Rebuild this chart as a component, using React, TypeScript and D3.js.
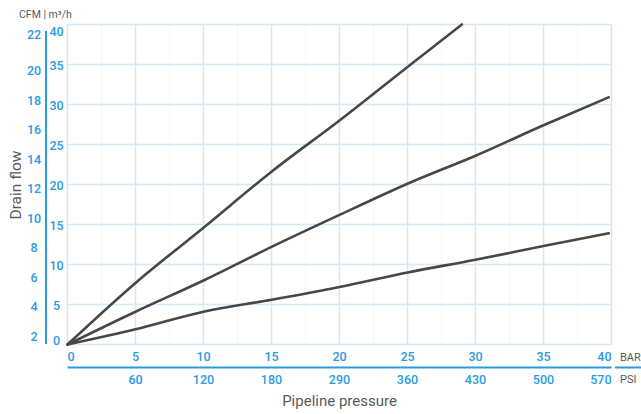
import React from "react";
import * as d3 from "d3";

const barTicks = [0, 5, 10, 15, 20, 25, 30, 35, 40];
const psiLabels = ["", "60", "120", "180", "290", "360", "430", "500", "570"];
const m3hTicks = [0, 5, 10, 15, 20, 25, 30, 35, 40];
const cfmLabels = [2, 4, 6, 8, 10, 12, 14, 16, 18, 20, 22];

const pressure1 = [0, 5, 10, 15, 20, 25, 29];
const flow1 = [0, 7.7, 14.6, 21.6, 28.0, 34.7, 40];
const pressure2 = [0, 5, 10, 15, 20, 25, 30, 35, 39.8];
const flow2 = [0, 4.1, 8.0, 12.2, 16.2, 20.1, 23.6, 27.4, 30.9];
const pressure3 = [0, 5, 10, 15, 20, 25, 30, 35, 39.8];
const flow3 = [0, 1.9, 4.1, 5.6, 7.2, 9.0, 10.6, 12.3, 13.9];

const W = 641;
const H = 414;
const BLUE = "#2b9be0";
const GRID = "#d6e7f6";
const GRAY = "#5a5a5a";
const LINE = "#474747";

export default function App() {
  const x = d3.scaleLinear().domain([0, 40]).range([67.5, 611.5]);
  const y = d3.scaleLinear().domain([0, 40]).range([344.5, 24.5]);
  const cfmY = d3.scaleLinear().domain([2, 20, 22]).range([336.5, 71, 35]);
  const labelY = d3.scaleLinear().domain([0, 5, 35, 40]).range([340.5, 305.5, 66, 31.5]);
  const line = d3
    .line<[number, number]>()
    .x((d) => x(d[0]))
    .y((d) => y(d[1]))
    .curve(d3.curveMonotoneX);
  const series = [
    d3.zip(pressure1, flow1) as [number, number][],
    d3.zip(pressure2, flow2) as [number, number][],
    d3.zip(pressure3, flow3) as [number, number][],
  ];
  const minor = d3.range(2.5, 40, 5);
  const font = "Roboto, 'Noto Sans', sans-serif";

  return (
    <svg
      width={W}
      height={H}
      style={{ position: "absolute", left: 0, top: 0, background: "#fff" }}
      fontFamily={font}
    >
      {minor.map((v) => (
        <line key={"mn" + v} x1={x(v)} x2={x(v)} y1={y(40)} y2={y(0)} stroke="#f3f7fc" strokeWidth={1} />
      ))}
      {m3hTicks.map((v) => (
        <line key={"h" + v} x1={x(0)} x2={x(40)} y1={y(v)} y2={y(v)} stroke={GRID} strokeWidth={1.5} />
      ))}
      {barTicks.map((v) => (
        <line key={"v" + v} x1={x(v)} x2={x(v)} y1={y(40)} y2={y(0)} stroke={GRID} strokeWidth={1.5} />
      ))}
      {series.map((s, i) => (
        <path key={"s" + i} d={line(s) || ""} fill="none" stroke={LINE} strokeWidth={2.6} strokeLinecap="round" />
      ))}
      <line x1={46} x2={46} y1={31} y2={344} stroke={BLUE} strokeWidth={2} />
      {cfmLabels.map((v) => (
        <text key={"c" + v} x={34} y={cfmY(v)} dy="0.35em" textAnchor="middle" fontSize={12.5} fontWeight={500} fill={BLUE}>
          {v}
        </text>
      ))}
      {m3hTicks.map((v) => (
        <text key={"m" + v} x={56.5} y={labelY(v)} dy="0.35em" textAnchor="middle" fontSize={12.5} fontWeight={500} fill={BLUE}>
          {v}
        </text>
      ))}
      <text x={19} y={14} dy="0.35em" fontSize={10.5} fill={GRAY}>
        CFM | m³/h
      </text>
      <text
        transform={`translate(16,185) rotate(-90)`}
        textAnchor="middle"
        dy="0.35em"
        fontSize={15.5}
        fill={GRAY}
      >
        Drain flow
      </text>
      {barTicks.map((v, i) => (
        <text
          key={"b" + v}
          x={x(v)}
          y={357}
          dy="0.35em"
          textAnchor={i === 0 ? "start" : i === barTicks.length - 1 ? "end" : "middle"}
          fontSize={12.5}
          fontWeight={500}
          fill={BLUE}
        >
          {v}
        </text>
      ))}
      <text x={620} y={357} dy="0.35em" fontSize={11} fill={GRAY}>
        BAR
      </text>
      <line x1={x(0)} x2={x(40)} y1={367.5} y2={367.5} stroke={BLUE} strokeWidth={2} />
      <line x1={615} x2={641} y1={367.5} y2={367.5} stroke={BLUE} strokeWidth={2} />
      {psiLabels.map((s, i) => (
        <text
          key={"p" + i}
          x={x(barTicks[i])}
          y={379.5}
          dy="0.35em"
          textAnchor={i === psiLabels.length - 1 ? "end" : "middle"}
          fontSize={12.5}
          fontWeight={500}
          fill={BLUE}
        >
          {s}
        </text>
      ))}
      <text x={620} y={379.5} dy="0.35em" fontSize={11} fill={GRAY}>
        PSI
      </text>
      <text x={x(20)} y={401} dy="0.35em" textAnchor="middle" fontSize={15} fill={GRAY}>
        Pipeline pressure
      </text>
    </svg>
  );
}
